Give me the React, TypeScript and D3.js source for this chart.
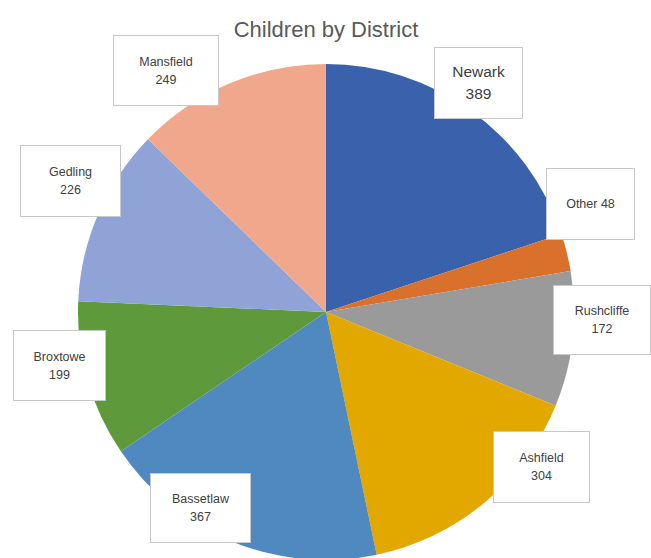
import React from "react";
import * as d3 from "d3";

const districts = ["Newark", "Other", "Rushcliffe", "Ashfield", "Bassetlaw", "Broxtowe", "Gedling", "Mansfield"];
const children = [389, 48, 172, 304, 367, 199, 226, 249];
const colors = ["#3A62AC", "#D9702B", "#9A9A9A", "#E3A800", "#4F89C0", "#5E9A3C", "#8FA3D6", "#F0A78B"];

// label box layout (x, y, w, h, fontSize, singleLine)
const labelBoxes: Record<string, [number, number, number, number, number, boolean]> = {
  Newark: [434, 47, 89, 72, 15.5, false],
  Other: [546, 168, 89, 72, 12.5, true],
  Rushcliffe: [553, 285, 98, 70, 12.5, false],
  Ashfield: [493, 431, 97, 72, 12.5, false],
  Bassetlaw: [150, 473, 101, 70, 12.5, false],
  Broxtowe: [13, 330, 93, 71, 12.5, false],
  Gedling: [20, 145, 101, 72, 12.5, false],
  Mansfield: [113, 35, 106, 71, 12.5, false],
};

const W = 651;
const H = 558;
const cx = 326;
const cy = 312;
const R = 248;

export default function App() {
  const data = districts.map((d, i) => ({ name: d, value: children[i], color: colors[i] }));
  const pie = d3.pie<any>().value((d) => d.value).sort(null);
  const arcs = pie(data);
  const arc = d3.arc<any>().innerRadius(0).outerRadius(R);
  const font = "'Liberation Sans', Arial, sans-serif";
  return (
    <svg width={W} height={H} style={{ position: "absolute", left: 0, top: 0, background: "#fff" }}>
      <text x={cx} y={37} textAnchor="middle" fontFamily={font} fontSize={22} fill="#595959">
        Children by District
      </text>
      <g transform={`translate(${cx},${cy})`}>
        {arcs.map((a, i) => (
          <path key={i} d={arc(a) as string} fill={a.data.color} />
        ))}
      </g>
      {data.map((d) => {
        const [x, y, w, h, fs, single] = labelBoxes[d.name];
        const mx = x + w / 2;
        const my = y + h / 2;
        return (
          <g key={d.name}>
            <rect x={x + 0.5} y={y + 0.5} width={w - 1} height={h - 1} fill="#fff" stroke="#C8C8C8" strokeWidth={1} />
            {single ? (
              <text x={mx} y={my + fs * 0.35} textAnchor="middle" fontFamily={font} fontSize={fs} fill="#404040">
                {`${d.name} ${d.value}`}
              </text>
            ) : (
              <text textAnchor="middle" fontFamily={font} fontSize={fs} fill="#404040">
                <tspan x={mx} y={my - fs * 0.4}>{d.name}</tspan>
                <tspan x={mx} y={my + fs * 1.05}>{d.value}</tspan>
              </text>
            )}
          </g>
        );
      })}
    </svg>
  );
}
